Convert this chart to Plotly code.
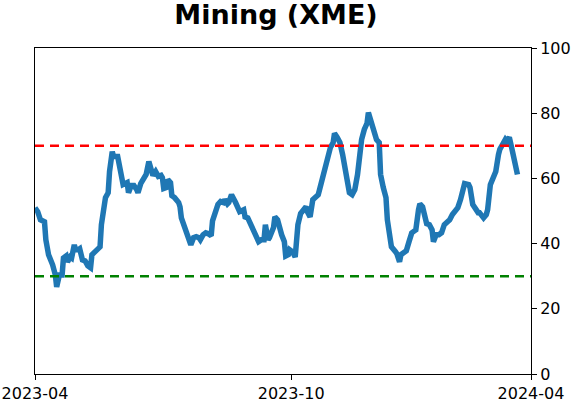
import plotly.graph_objects as go

# Serie
fechas = [
    "2023-04-01", "2023-04-03", "2023-04-05", "2023-04-08", "2023-04-09", "2023-04-11",
    "2023-04-14", "2023-04-16", "2023-04-17", "2023-04-19", "2023-04-21", "2023-04-22",
    "2023-04-24", "2023-04-25", "2023-04-27", "2023-04-28", "2023-04-30", "2023-05-01",
    "2023-05-03", "2023-05-04", "2023-05-06", "2023-05-08", "2023-05-10", "2023-05-12",
    "2023-05-13", "2023-05-15", "2023-05-17", "2023-05-19", "2023-05-20", "2023-05-22",
    "2023-05-23", "2023-05-25", "2023-05-26", "2023-05-28", "2023-05-29", "2023-06-01",
    "2023-06-03", "2023-06-05", "2023-06-08", "2023-06-09", "2023-06-11", "2023-06-13",
    "2023-06-15", "2023-06-16", "2023-06-18", "2023-06-20", "2023-06-22", "2023-06-24",
    "2023-06-26", "2023-06-27", "2023-06-29", "2023-07-01", "2023-07-03", "2023-07-04",
    "2023-07-05", "2023-07-07", "2023-07-08", "2023-07-10", "2023-07-11", "2023-07-13",
    "2023-07-16", "2023-07-17", "2023-07-18", "2023-07-20", "2023-07-21", "2023-07-23",
    "2023-07-25", "2023-07-27", "2023-07-29", "2023-07-31", "2023-08-01", "2023-08-03",
    "2023-08-05", "2023-08-07", "2023-08-09", "2023-08-10", "2023-08-12", "2023-08-14",
    "2023-08-16", "2023-08-18", "2023-08-19", "2023-08-21", "2023-08-22", "2023-08-24",
    "2023-08-27", "2023-08-29", "2023-08-30", "2023-09-02", "2023-09-03", "2023-09-05",
    "2023-09-07", "2023-09-09", "2023-09-11", "2023-09-13", "2023-09-15", "2023-09-17",
    "2023-09-18", "2023-09-20", "2023-09-21", "2023-09-24", "2023-09-25", "2023-09-27",
    "2023-09-30", "2023-10-02", "2023-10-03", "2023-10-05", "2023-10-06", "2023-10-08",
    "2023-10-10", "2023-10-12", "2023-10-14", "2023-10-16", "2023-10-18", "2023-10-19",
    "2023-10-21", "2023-10-23", "2023-10-25", "2023-10-27", "2023-10-28", "2023-10-31",
    "2023-11-02", "2023-11-04", "2023-11-05", "2023-11-07", "2023-11-08", "2023-11-10",
    "2023-11-12", "2023-11-14", "2023-11-16", "2023-11-17", "2023-11-19", "2023-11-21",
    "2023-11-23", "2023-11-25", "2023-11-26", "2023-11-28", "2023-11-30", "2023-12-02",
    "2023-12-03", "2023-12-05", "2023-12-06", "2023-12-09", "2023-12-11", "2023-12-12",
    "2023-12-14", "2023-12-16", "2023-12-17", "2023-12-19", "2023-12-20", "2023-12-23",
    "2023-12-24", "2023-12-26", "2023-12-27", "2023-12-29", "2023-12-31", "2024-01-02",
    "2024-01-04", "2024-01-06", "2024-01-07", "2024-01-09", "2024-01-10", "2024-01-12",
    "2024-01-14", "2024-01-15", "2024-01-17", "2024-01-19", "2024-01-20", "2024-01-22",
    "2024-01-24", "2024-01-26", "2024-01-28", "2024-01-30", "2024-02-01", "2024-02-03",
    "2024-02-05", "2024-02-07", "2024-02-09", "2024-02-11", "2024-02-12", "2024-02-15",
    "2024-02-16", "2024-02-18", "2024-02-20", "2024-02-22", "2024-02-23", "2024-02-26",
    "2024-02-28", "2024-02-29", "2024-03-02", "2024-03-04", "2024-03-06", "2024-03-08",
    "2024-03-09", "2024-03-11", "2024-03-13", "2024-03-14", "2024-03-16", "2024-03-18",
    "2024-03-20", "2024-03-22",
]
valores = [
    51.0, 49.8, 47.3, 46.7, 41.2, 36.6,
    33.5, 30.4, 26.7, 30.4, 30.4, 35.6,
    36.2, 34.4, 35.9, 35.6, 39.6, 38.1,
    38.1, 38.4, 35.0, 34.7, 33.2, 32.6,
    36.6, 37.5, 38.1, 39.0, 45.8, 52.6,
    54.1, 55.6, 62.1, 68.2, 66.7, 66.7,
    62.7, 58.1, 58.7, 55.6, 57.8, 57.8,
    56.6, 55.6, 58.4, 60.2, 61.2, 65.2,
    61.2, 60.9, 62.1, 60.6, 60.9, 60.2,
    56.9, 57.2, 59.6, 58.7, 54.7, 54.1,
    52.6, 51.3, 47.9, 45.8, 44.2, 42.7,
    39.6, 41.8, 42.1, 41.8, 41.2, 42.7,
    43.3, 43.0, 42.4, 47.0, 49.5, 52.0,
    52.9, 52.6, 53.5, 52.2, 52.6, 55.0,
    52.6, 50.4, 49.8, 50.4, 48.2, 47.9,
    45.8, 44.2, 41.8, 40.6, 41.2, 41.2,
    45.8, 41.2, 41.8, 44.9, 48.2, 47.3,
    42.7, 40.6, 36.2, 36.6, 38.1, 37.5,
    35.9, 45.8, 49.2, 50.4, 51.3, 49.8,
    48.2, 53.5, 54.1, 55.0, 56.6, 61.2,
    65.2, 67.3, 69.5, 71.0, 73.8, 72.6,
    71.0, 67.3, 62.1, 60.2, 55.6, 55.0,
    56.6, 61.2, 65.8, 71.9, 75.0, 76.9,
    80.2, 77.2, 75.0, 71.9, 71.0, 61.2,
    57.2, 54.1, 47.3, 41.2, 39.0, 37.5,
    36.9, 34.4, 36.6, 37.2, 37.8, 40.6,
    43.3, 43.9, 44.2, 50.4, 52.2, 51.3,
    47.9, 46.1, 45.8, 44.2, 40.6, 42.7,
    42.7, 43.3, 45.8, 46.7, 47.3, 48.9,
    49.8, 51.0, 53.5, 56.6, 58.4, 58.1,
    57.2, 52.0, 50.4, 49.5, 49.5, 47.9,
    48.9, 50.4, 58.1, 60.2, 62.1, 67.3,
    68.9, 70.4, 71.9, 71.3, 72.6, 68.9,
    64.2, 61.2,
]

nivel_alto = 70
nivel_bajo = 30
rango_x = ["2023-04-01", "2024-04-01"]
ticks_x = ["2023-04-01", "2023-10-07", "2024-04-01"]
etiquetas_x = ["2023-04", "2023-10", "2024-04"]
ticks_y = [0, 20, 40, 60, 80, 100]

fig = go.Figure()
fig.add_trace(go.Scatter(
    x=fechas, y=valores, mode="lines",
    line=dict(color="#1f77b4", width=5.5),
    hoverinfo="skip", showlegend=False,
))

# Líneas de referencia
fig.add_hline(y=nivel_alto, line=dict(color="red", width=2.5, dash="9px,6px"))
fig.add_hline(y=nivel_bajo, line=dict(color="green", width=2.5, dash="9px,6px"))

fig.update_layout(
    width=571, height=402,
    margin=dict(l=35, r=40, t=48, b=28),
    paper_bgcolor="white", plot_bgcolor="white",
    font=dict(family="DejaVu Sans", size=16, color="black"),
    title=dict(
        text="<b>Mining (XME)</b>",
        font=dict(family="DejaVu Sans", size=27, color="black"),
        x=276 / 571, xanchor="center",
        y=0.965, yanchor="middle",
    ),
)
fig.update_xaxes(
    type="date", range=rango_x, automargin=False,
    tickvals=ticks_x, ticktext=etiquetas_x,
    ticks="outside", ticklen=5, tickwidth=1, tickcolor="black",
    showgrid=False, zeroline=False,
    showline=True, linecolor="black", linewidth=1, mirror=True,
)
fig.update_yaxes(
    range=[0, 100], side="right", tickvals=ticks_y, automargin=False,
    ticks="outside", ticklen=5, tickwidth=1, tickcolor="black",
    showgrid=False, zeroline=False,
    showline=True, linecolor="black", linewidth=1, mirror=True,
)

# quita el margen del body para que el gráfico ocupe toda la ventana
fig.write_html("out.html", config={"displayModeBar": False},
               post_script="document.body.style.margin='0';")
